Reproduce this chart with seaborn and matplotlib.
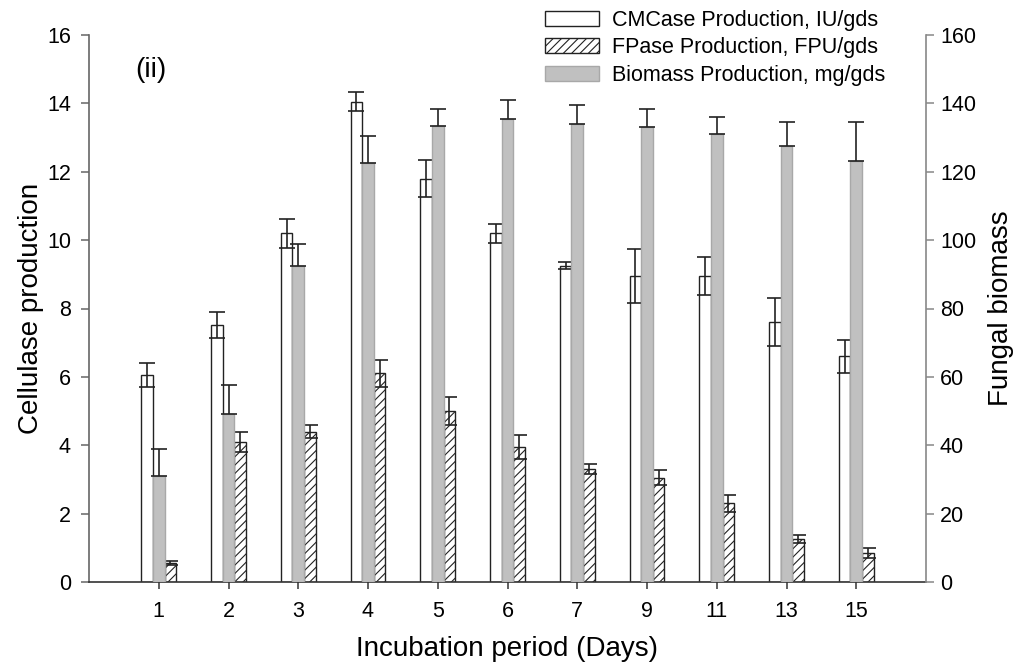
import matplotlib
matplotlib.use("Agg")
import matplotlib.pyplot as plt
from matplotlib.patches import Patch
import seaborn as sns
import pandas as pd
import numpy as np

# ---------------- data ----------------
days = ["1", "2", "3", "4", "5", "6", "7", "9", "11", "13", "15"]
cmcase = [6.05, 7.52, 10.2, 14.05, 11.8, 10.2, 9.25, 8.95, 8.95, 7.6, 6.6]
cmcase_err = [0.35, 0.38, 0.42, 0.28, 0.55, 0.28, 0.10, 0.80, 0.55, 0.70, 0.48]
fpase = [0.55, 4.1, 4.4, 6.1, 5.0, 3.95, 3.3, 3.05, 2.3, 1.25, 0.85]
fpase_err = [0.05, 0.30, 0.20, 0.40, 0.40, 0.35, 0.15, 0.22, 0.25, 0.12, 0.15]
biomass = [31, 49, 92.5, 122.5, 133.5, 135.5, 134, 133, 131, 127.5, 123]
biomass_err = [8, 8.5, 6.5, 8, 5, 5.5, 5.5, 5.5, 5, 7, 11.5]

CMC = "CMCase Production, IU/gds"
FP = "FPase Production, FPU/gds"
BIO = "Biomass Production, mg/gds"
hue_order = [CMC, BIO, FP]

left_df = pd.DataFrame({
    "day": days * 2,
    "series": [CMC] * len(days) + [FP] * len(days),
    "value": cmcase + fpase,
})
right_df = pd.DataFrame({"day": days, "series": [BIO] * len(days), "value": biomass})

# ---------------- style ----------------
sns.set_style("ticks")
plt.rcParams["font.family"] = ["Liberation Sans", "DejaVu Sans"]
plt.rcParams["hatch.linewidth"] = 0.8
plt.rcParams["hatch.color"] = "#222222"
plt.rcParams["text.color"] = "black"
plt.rcParams["axes.labelcolor"] = "black"

fig = plt.figure(figsize=(10.19, 6.68), dpi=100)
ax = fig.add_axes([89 / 1019, 1 - 582 / 668, (926 - 89) / 1019, (582 - 35) / 668])
ax2 = ax.twinx()

palette = {CMC: "white", FP: "white", BIO: "#c0c0c0"}

sns.barplot(data=left_df, x="day", y="value", hue="series", hue_order=hue_order,
            order=days, palette=palette, width=0.5, dodge=True, errorbar=None,
            legend=False, ax=ax, saturation=1)
sns.barplot(data=right_df, x="day", y="value", hue="series", hue_order=hue_order,
            order=days, palette=palette, width=0.5, dodge=True, errorbar=None,
            legend=False, ax=ax2, saturation=1)

ecol = "#222222"
cx, cy, ce = [], [], []
fx, fy, fe = [], [], []
for p in ax.patches:
    c = p.get_x() + p.get_width() / 2
    i = int(round(c))
    h = p.get_height()
    p.set_facecolor("white")
    p.set_edgecolor(ecol)
    p.set_linewidth(1.0)
    if c < i:
        cx.append(c); cy.append(h); ce.append(cmcase_err[i])
    else:
        p.set_hatch("////")
        fx.append(c); fy.append(h); fe.append(fpase_err[i])

bx, by, be = [], [], []
for p in ax2.patches:
    c = p.get_x() + p.get_width() / 2
    i = int(round(c))
    p.set_facecolor("#c0c0c0")
    p.set_edgecolor("#a8a8a8")
    p.set_linewidth(1.0)
    bx.append(c); by.append(p.get_height()); be.append(biomass_err[i])

ekw = dict(fmt="none", ecolor=ecol, elinewidth=1.2, capsize=6, capthick=1.2, zorder=5)
ax.errorbar(cx, cy, yerr=ce, **ekw)
ax.errorbar(fx, fy, yerr=fe, **ekw)
ax2.errorbar(bx, by, yerr=[np.zeros(len(be)), be], **ekw)

# ---------------- axes ----------------
ax.set_xlim(-1, 11)
ax.set_ylim(0, 16)
ax.set_yticks(np.arange(0, 17, 2))
ax2.set_ylim(0, 160)
ax2.set_yticks(np.arange(0, 161, 20))

for a in (ax, ax2):
    a.spines["top"].set_visible(False)
ax.spines["right"].set_visible(False)
ax2.spines["left"].set_visible(False)
ax2.spines["bottom"].set_visible(False)
ax.spines["left"].set_color("#666666")
ax2.spines["right"].set_color("#888888")
ax.spines["bottom"].set_color("#333333")
for s in ("left", "bottom"):
    ax.spines[s].set_linewidth(1.2)
ax2.spines["right"].set_linewidth(1.2)

ax.tick_params(axis="y", direction="out", length=6, width=1.1, color="#666666",
               labelcolor="black", labelsize=15.5, pad=7)
ax.tick_params(axis="x", direction="out", length=5, width=1.1, color="#333333",
               labelcolor="black", labelsize=15.5, pad=9)
ax2.tick_params(axis="y", direction="out", length=6, width=1.1, color="#888888",
                labelcolor="black", labelsize=15.5, pad=4)

ax.set_xlabel("Incubation period (Days)", fontsize=20)
ax.set_ylabel("Cellulase production", fontsize=20)
ax2.set_ylabel("Fungal biomass", fontsize=20)
ax2.set_xlabel("")
ax.xaxis.set_label_coords(0.5, (582 - 636) / 547)
ax.yaxis.set_label_coords((44 - 89) / 837, 0.5)
ax2.yaxis.set_label_coords((988 - 89) / 837, 0.5)

ax.text((151 - 89) / 837, (582 - 70) / 547, "(ii)", transform=ax.transAxes,
        ha="center", va="center", fontsize=20)

handles = [
    Patch(facecolor="white", edgecolor=ecol, linewidth=1.0, label=CMC),
    Patch(facecolor="white", edgecolor=ecol, hatch="////", linewidth=1.0, label=FP),
    Patch(facecolor="#c0c0c0", edgecolor="#a8a8a8", linewidth=1.0, label=BIO),
]
fig.legend(handles=handles, loc="upper left", bbox_to_anchor=(545 / 1019, 1 - 10 / 668),
           frameon=False, fontsize=15.5, borderpad=0, borderaxespad=0,
           handlelength=2.5, handleheight=0.7, handletextpad=0.6, labelspacing=0.3)

fig.savefig("out.png", dpi=100)
